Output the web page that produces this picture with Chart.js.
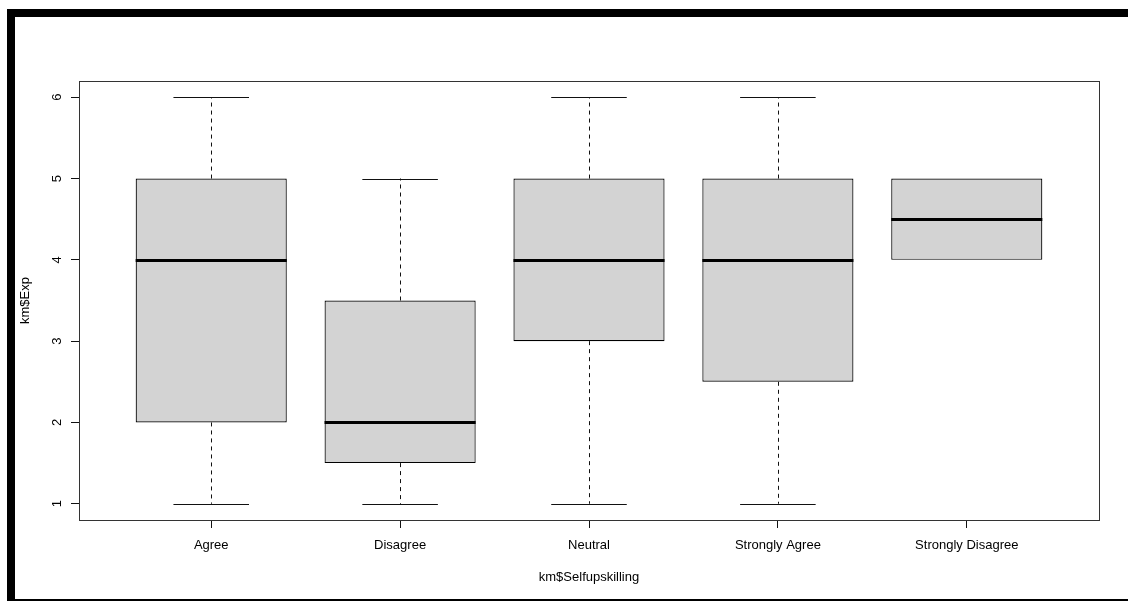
<!DOCTYPE html>
<html>
<head>
<meta charset="utf-8">
<title>km$Exp by km$Selfupskilling</title>
<script src="https://cdn.jsdelivr.net/npm/chart.js@4/dist/chart.umd.min.js"></script>
<style>
  html, body { margin: 0; padding: 0; background: #fff; }
  canvas { display: block; }
</style>
</head>
<body>
<canvas id="c" width="1128" height="601"></canvas>
<script>
// Groups on the x axis
const categories = ['Agree', 'Disagree', 'Neutral', 'Strongly Agree', 'Strongly Disagree'];
// Five-number summaries of km$Exp per group
const whiskerLow  = [1, 1,   1, 1,   4];
const lowerQuart  = [2, 1.5, 3, 2.5, 4];
const medians     = [4, 2,   4, 4,   4.5];
const upperQuart  = [5, 3.5, 5, 5,   5];
const whiskerHigh = [6, 5,   6, 6,   5];
// Axis ticks
const yTicks = [1, 2, 3, 4, 5, 6];
const xTicks = [1, 2, 3, 4, 5];

const FONT = "'Liberation Sans', Arial, sans-serif";
const INK = '#111';

// whiskers, caps and medians drawn on the chart's own scales
const boxExtras = {
  id: 'boxExtras',
  beforeDatasetsDraw(chart) {
    const {ctx, scales: {x, y}} = chart;
    ctx.save();
    ctx.strokeStyle = INK;
    ctx.lineWidth = 1;
    categories.forEach((_, i) => {
      const cx = Math.round(x.getPixelForValue(xTicks[i])) + 0.5;
      const lo = y.getPixelForValue(whiskerLow[i]);
      const hi = y.getPixelForValue(whiskerHigh[i]);
      const q1 = y.getPixelForValue(lowerQuart[i]);
      const q3 = y.getPixelForValue(upperQuart[i]);
      const capL = x.getPixelForValue(xTicks[i] - 0.2);
      const capR = x.getPixelForValue(xTicks[i] + 0.2);
      // a zero-length whisker sits under the box edge, so it is left out
      [[q3, hi, whiskerHigh[i] > upperQuart[i]], [q1, lo, whiskerLow[i] < lowerQuart[i]]]
        .forEach(([from, to, show]) => {
          if (!show) return;
          ctx.setLineDash([4, 4]);
          ctx.beginPath();
          ctx.moveTo(cx, from); ctx.lineTo(cx, to);
          ctx.stroke();
          ctx.setLineDash([]);
          const yy = Math.round(to) + 0.5;
          ctx.beginPath();
          ctx.moveTo(capL, yy); ctx.lineTo(capR, yy);
          ctx.stroke();
        });
    });
    ctx.restore();
  },
  afterDatasetsDraw(chart) {
    const {ctx, scales: {x, y}, chartArea: a} = chart;
    ctx.save();
    ctx.strokeStyle = '#000';
    ctx.lineWidth = 3;
    categories.forEach((_, i) => {
      const l = x.getPixelForValue(xTicks[i] - 0.4);
      const r = x.getPixelForValue(xTicks[i] + 0.4);
      const m = Math.round(y.getPixelForValue(medians[i])) + 0.5;
      ctx.beginPath();
      ctx.moveTo(l, m); ctx.lineTo(r, m);
      ctx.stroke();
    });
    // plot frame
    ctx.strokeStyle = '#333';
    ctx.lineWidth = 1;
    ctx.strokeRect(Math.round(a.left) + 0.5, Math.round(a.top) + 0.5,
                   Math.round(a.right - a.left), Math.round(a.bottom - a.top));
    ctx.restore();
  },
  afterDraw(chart) {
    const {ctx} = chart;
    ctx.save();
    ctx.fillStyle = '#000';
    ctx.fillRect(7, 9, 1121, 8);
    ctx.fillRect(7, 9, 8, 592);
    ctx.fillRect(7, 599, 1121, 2);
    ctx.restore();
  }
};

new Chart(document.getElementById('c'), {
  type: 'bar',
  data: {
    datasets: [{
      label: 'km$Exp',
      data: categories.map((_, i) => ({x: xTicks[i], y: [lowerQuart[i], upperQuart[i]]})),
      backgroundColor: '#D3D3D3',
      borderColor: '#000',
      borderWidth: 1.2,
      borderSkipped: false,
      categoryPercentage: 1,
      barPercentage: 0.8
    }]
  },
  options: {
    responsive: false,
    animation: false,
    layout: {padding: {left: 0, top: 81, right: 29, bottom: 0}},
    plugins: {legend: {display: false}, tooltip: {enabled: false}},
    scales: {
      x: {
        type: 'linear',
        min: 0.3, max: 5.7,
        offset: false,
        afterBuildTicks: s => { s.ticks = xTicks.map(v => ({value: v})); },
        afterFit: s => { s.height = 81; },
        grid: {offset: false, drawOnChartArea: false, drawTicks: true, tickLength: 8, tickColor: INK},
        border: {display: false},
        ticks: {
          autoSkip: false, maxRotation: 0, minRotation: 0, padding: 10,
          color: '#000', font: {family: FONT, size: 13},
          callback: v => categories[xTicks.indexOf(v)] ?? ''
        },
        title: {display: true, text: 'km$Selfupskilling', color: '#000',
                font: {family: FONT, size: 13}, padding: {top: 16, bottom: 16}}
      },
      y: {
        type: 'linear',
        min: 0.8, max: 6.2,
        afterBuildTicks: s => { s.ticks = yTicks.map(v => ({value: v})); },
        afterFit: s => { s.width = 79; },
        grid: {drawOnChartArea: false, drawTicks: true, tickLength: 8, tickColor: INK},
        border: {display: false},
        ticks: {
          minRotation: 90, maxRotation: 90, crossAlign: 'center', padding: 10,
          color: '#000', font: {family: FONT, size: 13}
        },
        title: {display: true, text: 'km$Exp', color: '#000',
                font: {family: FONT, size: 13}, padding: {top: 18, bottom: 18}}
      }
    }
  },
  plugins: [boxExtras]
});
</script>
</body>
</html>
